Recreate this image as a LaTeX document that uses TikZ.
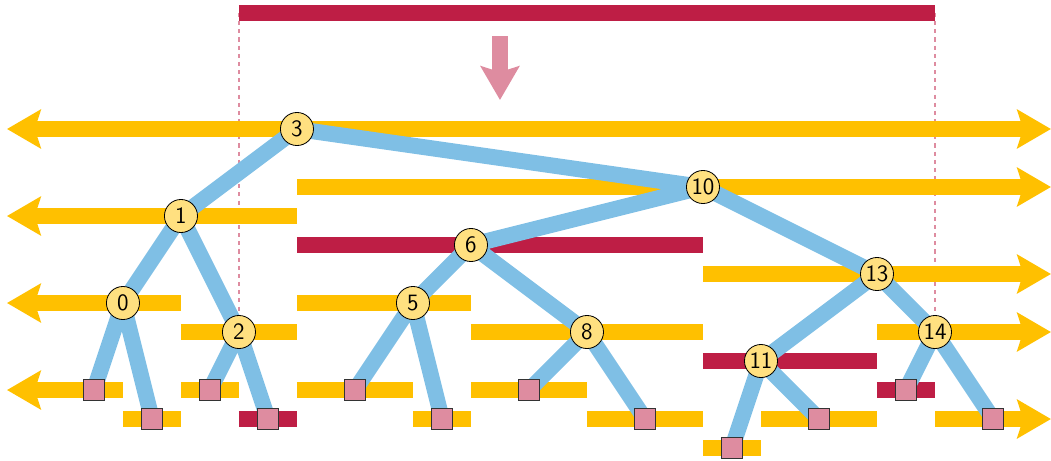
\documentclass[tikz,border=0pt]{standalone}
\usetikzlibrary{arrows.meta,backgrounds}
\definecolor{barYellow}{HTML}{FFC000}
\definecolor{barRed}{HTML}{BE1E45}
\definecolor{edgeBlue}{HTML}{7FBFE5}
\definecolor{keyFill}{HTML}{FFE080}
\definecolor{leafPink}{HTML}{DE8CA0}
\begin{document}
\begin{tikzpicture}[
  >={Stealth[length=0.58cm,width=0.66cm,inset=0.1cm]},
  bar/.style={line width=7.8pt,barYellow},
  hot/.style={line width=7.8pt,barRed},
  edge/.style={line width=7.8pt,edgeBlue},
  key/.style={circle,draw,thin,fill=keyFill,minimum size=0.57cm,inner sep=0pt,font=\sffamily\fontsize{11.5}{13}\selectfont},
  leaf/.style={rectangle,draw=black!80,thin,fill=leafPink,minimum size=0.35cm,inner sep=0pt}]
\useasboundingbox (-0.12,2.224) rectangle (18,-5.707);

% inner keys
\node[key] (n3) at (5,0) {3};
\node[key] (n10) at (12,-1) {10};
\node[key] (n1) at (3,-1.5) {1};
\node[key] (n6) at (8,-2) {6};
\node[key] (n13) at (15,-2.5) {13};
\node[key] (n0) at (2,-3) {0};
\node[key] (n5) at (7,-3) {5};
\node[key] (n2) at (4,-3.5) {2};
\node[key] (n8) at (10,-3.5) {8};
\node[key] (n14) at (16,-3.5) {14};
\node[key] (n11) at (13,-4) {11};

% leaves
\node[leaf] (l1) at (1.5,-4.5) {};
\node[leaf] (l2) at (2.5,-5) {};
\node[leaf] (l3) at (3.5,-4.5) {};
\node[leaf] (l4) at (4.5,-5) {};
\node[leaf] (l5) at (6,-4.5) {};
\node[leaf] (l6) at (7.5,-5) {};
\node[leaf] (l7) at (9,-4.5) {};
\node[leaf] (l8) at (11,-5) {};
\node[leaf] (l9) at (12.5,-5.5) {};
\node[leaf] (l10) at (14,-5) {};
\node[leaf] (l11) at (15.5,-4.5) {};
\node[leaf] (l12) at (17,-5) {};

% query and its down arrow
\coordinate (qa) at (4,2);
\coordinate (qb) at (16,2);
\coordinate (down) at (8.5,1.6);
\coordinate (downend) at (8.5,0.5);
\draw[->,line width=7.8pt,leafPink] (down) -- (downend);

\begin{scope}[on background layer]
  \draw[leafPink,line width=0.7pt,dash pattern=on 2pt off 2pt] (qa) -- (n2.center) (qb) -- (n14.center);
  \draw[hot] (qa) -- (qb);
  % slabs of the keys
  \draw[bar,<->] (0,0) -- (18,0);
  \draw[bar,->] (5,-1) -- (18,-1);
  \draw[bar,<-] (0,-1.5) -- (5,-1.5);
  \draw[hot] (5,-2) -- (12,-2);
  \draw[bar,->] (12,-2.5) -- (18,-2.5);
  \draw[bar,<-] (0,-3) -- (3,-3);
  \draw[bar] (5,-3) -- (8,-3);
  \draw[bar] (3,-3.5) -- (5,-3.5);
  \draw[bar] (8,-3.5) -- (12,-3.5);
  \draw[bar,->] (15,-3.5) -- (18,-3.5);
  \draw[hot] (12,-4) -- (15,-4);
  % slabs of the leaves
  \draw[bar,<-] (0,-4.5) -- (2,-4.5);
  \draw[bar] (3,-4.5) -- (4,-4.5);
  \draw[bar] (5,-4.5) -- (7,-4.5);
  \draw[bar] (8,-4.5) -- (10,-4.5);
  \draw[hot] (15,-4.5) -- (16,-4.5);
  \draw[bar] (2,-5) -- (3,-5);
  \draw[hot] (4,-5) -- (5,-5);
  \draw[bar] (7,-5) -- (8,-5);
  \draw[bar] (10,-5) -- (12,-5);
  \draw[bar] (13,-5) -- (15,-5);
  \draw[bar,->] (16,-5) -- (18,-5);
  \draw[bar] (12,-5.5) -- (13,-5.5);
  % tree
  \draw[edge] (n3.center) -- (n1.center) (n3.center) -- (n10.center)
    (n1.center) -- (n0.center) (n1.center) -- (n2.center)
    (n10.center) -- (n6.center) (n10.center) -- (n13.center)
    (n6.center) -- (n5.center) (n6.center) -- (n8.center)
    (n13.center) -- (n11.center) (n13.center) -- (n14.center)
    (n0.center) -- (l1.center) (n0.center) -- (l2.center)
    (n2.center) -- (l3.center) (n2.center) -- (l4.center)
    (n5.center) -- (l5.center) (n5.center) -- (l6.center)
    (n8.center) -- (l7.center) (n8.center) -- (l8.center)
    (n11.center) -- (l9.center) (n11.center) -- (l10.center)
    (n14.center) -- (l11.center) (n14.center) -- (l12.center);
\end{scope}
\end{tikzpicture}
\end{document}
